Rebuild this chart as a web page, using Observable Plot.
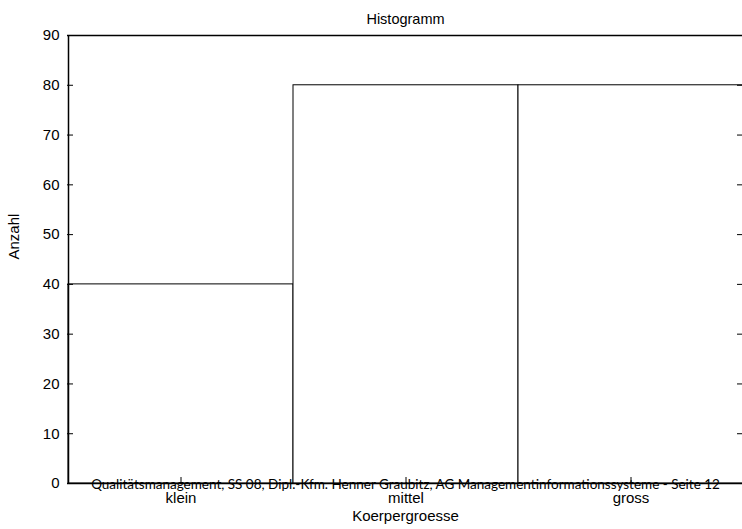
<!DOCTYPE html>
<html>
<head>
<meta charset="utf-8">
<script src="https://cdn.jsdelivr.net/npm/d3@7"></script>
<script src="https://cdn.jsdelivr.net/npm/@observablehq/plot@0.6"></script>
<style>
  html, body { margin: 0; padding: 0; background: #fff; }
  svg { display: block; }
</style>
</head>
<body>
<div id="chart"></div>
<script>
const categories = ["klein", "mittel", "gross"];
const counts = [40, 80, 80];
const yTicks = [0, 10, 20, 30, 40, 50, 60, 70, 80, 90];
const titleText = "Histogramm";
const xLabel = "Koerpergroesse";
const yLabel = "Anzahl";
const footer = "Qualitätsmanagement, SS 08, Dipl.-Kfm. Henner Graubitz, AG Managementinformationssysteme - Seite 12";

const data = categories.map((c, i) => ({cat: c, n: counts[i]}));

const chart = Plot.plot({
  width: 742,
  height: 529,
  marginLeft: 67,
  marginRight: -1,
  marginTop: 35,
  marginBottom: 46,
  style: {fontFamily: "Liberation Sans, Arial, sans-serif", fontSize: "15px", color: "#000", background: "#fff", overflow: "hidden"},
  x: {domain: categories, padding: 0, axis: null},
  y: {domain: [0, 90], axis: null},
  marks: [
    Plot.barY(data, {x: "cat", y: "n", fill: "white", stroke: "black", strokeWidth: 1}),
    Plot.ruleY([0, 90], {stroke: "black", strokeWidth: 1.5}),
    Plot.axisY({anchor: "left", ticks: yTicks, tickSize: 0, tickPadding: 8, label: null, fontSize: 15}),
    Plot.axisY({anchor: "left", ticks: yTicks, tickSize: -6, tickFormat: () => "", label: null}),
    Plot.ruleX([categories[0]], {dx: -112.5, y1: 0, y2: 90, stroke: "black", strokeWidth: 1.5}),
    Plot.axisY({anchor: "right", ticks: yTicks, tickSize: -7, tickFormat: () => "", label: null}),
    Plot.axisX({anchor: "bottom", tickSize: -6, tickPadding: 15, label: null, fontSize: 15}),
    Plot.text([titleText], {text: d => d, frameAnchor: "top", dy: -22, fontSize: 14.5}),
    Plot.text([xLabel], {text: d => d, frameAnchor: "bottom", dy: 37, fontSize: 15}),
    Plot.text([yLabel], {text: d => d, frameAnchor: "left", dx: -53, rotate: -90, fontSize: 15}),
    Plot.text([footer], {text: d => d, frameAnchor: "bottom", dy: 5, fontSize: 13.5, fontFamily: "Lato, sans-serif"})
  ]
});
document.getElementById("chart").appendChild(chart);
</script>
</body>
</html>
